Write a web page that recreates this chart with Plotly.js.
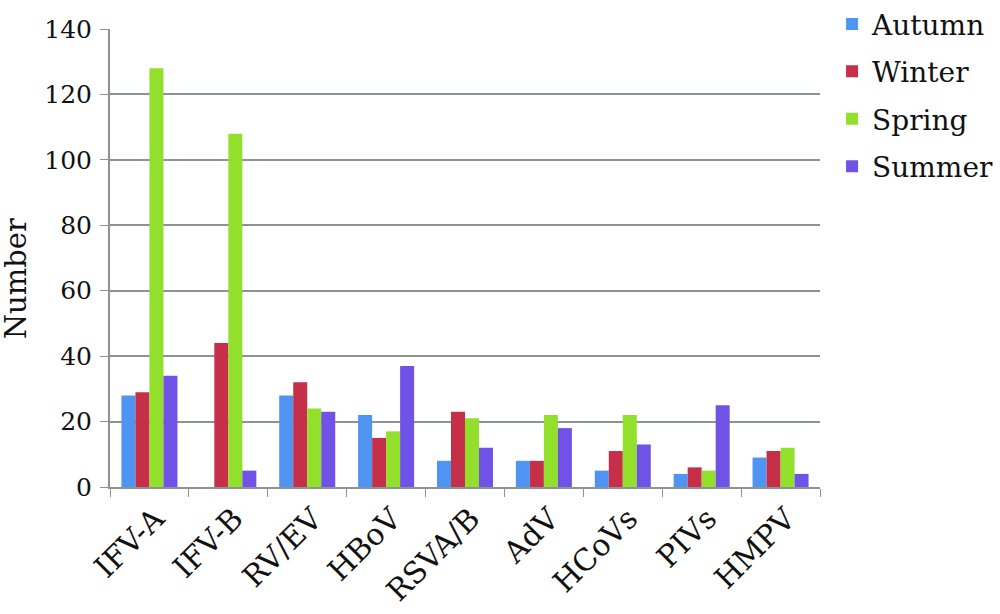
<!DOCTYPE html>
<html><head><meta charset="utf-8">
<script src="https://cdn.plot.ly/plotly-3.0.1.min.js"></script>
<style>body{margin:0;background:#fff}#chart{width:1000px;height:614px}</style>
</head><body><div id="chart"></div>
<script>
const categories = ["IFV-A","IFV-B","RV/EV","HBoV","RSVA/B","AdV","HCoVs","PIVs","HMPV"];
const autumn = [28, 0, 28, 22, 8, 8, 5, 4, 9];
const winter = [29, 44, 32, 15, 23, 8, 11, 6, 11];
const spring = [128, 108, 24, 17, 21, 22, 22, 5, 12];
const summer = [34, 5, 23, 37, 12, 18, 13, 25, 4];
const seriesNames = ["Autumn","Winter","Spring","Summer"];
const colors = ["#4F94F2","#C52F48","#92E02C","#7152E6"];
const yTicks = [0,20,40,60,80,100,120,140];

const font = "DejaVu Serif, Liberation Serif, serif";
const data = [autumn, winter, spring, summer].map((v,i)=>({
  type:"bar", name:seriesNames[i], x:categories, y:v, legendgroup:"g"+i,
  marker:{color:colors[i]}
}));
const layout = {
  width:1000, height:614,
  margin:{l:110, r:180, t:29, b:127, autoexpand:false},
  paper_bgcolor:"#fff", plot_bgcolor:"#fff",
  bargap:0.29, bargroupgap:0,
  font:{family:font, color:"#111"},
  showlegend:true,
  legend:{x:1.017, xanchor:"left", y:1.065, yanchor:"top", font:{size:28, family:font}, tracegroupgap:8, itemwidth:30},
  xaxis:{type:"category", tickson:"boundaries", ticks:"outside", ticklen:8, tickcolor:"#8a9396",
    showline:true, linecolor:"#8a9396", linewidth:2, tickangle:-45, tickfont:{size:30, family:font}, showgrid:false,
    ticklabelshift:6},
  yaxis:{range:[0,140], tickvals:yTicks, ticks:"outside", ticklen:8, tickcolor:"#8a9396",
    showline:true, linecolor:"#8a9396", linewidth:2, gridcolor:"#8a9396", gridwidth:1.5,
    tickfont:{size:25, family:font}, zeroline:false, ticklabelstandoff:3},
  annotations:[{text:"Number", xref:"paper", yref:"paper", x:-0.132, y:0.454, xanchor:"center", yanchor:"middle", textangle:-90,
    showarrow:false, font:{size:29, family:font, color:"#111"}}]
};
Plotly.newPlot("chart", data, layout, {displayModeBar:false});
</script></body></html>
